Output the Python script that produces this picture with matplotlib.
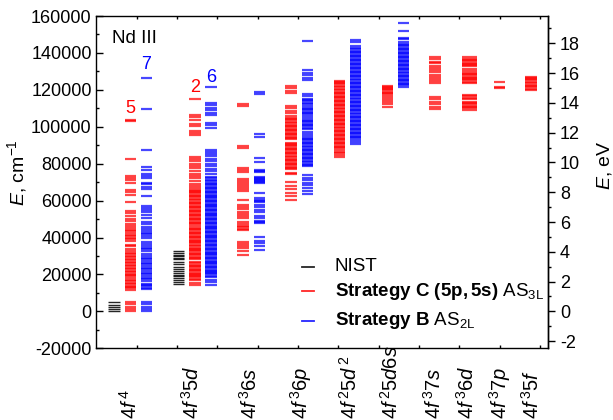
import matplotlib
matplotlib.use("Agg")
import matplotlib.pyplot as plt
import matplotlib.transforms as mtransforms
from matplotlib.ticker import MultipleLocator

plt.rcParams['font.family'] = ['Liberation Sans', 'DejaVu Sans']
plt.rcParams['mathtext.fontset'] = 'custom'
plt.rcParams['mathtext.rm'] = 'Liberation Sans'
plt.rcParams['mathtext.it'] = 'Liberation Sans:italic'
plt.rcParams['mathtext.bf'] = 'Liberation Sans:bold'
plt.rcParams['axes.unicode_minus'] = False

# ---------------- data (energies in cm^-1) ----------------
configs = ['4f4', '4f35d', '4f36s', '4f36p', '4f25d2', '4f25d6s', '4f37s', '4f36d', '4f37p', '4f35f']
config_labels = [r'$\mathit{4f}^{\,\mathit{4}}$', r'$\mathit{4f}^{\,\mathit{3}}\mathit{5d}$',
                 r'$\mathit{4f}^{\,\mathit{3}}\mathit{6s}$', r'$\mathit{4f}^{\,\mathit{3}}\mathit{6p}$',
                 r'$\mathit{4f}^{\,\mathit{2}}\mathit{5d}^{\,\mathit{2}}$', r'$\mathit{4f}^{\,\mathit{2}}\mathit{5d6s}$',
                 r'$\mathit{4f}^{\,\mathit{3}}\mathit{7s}$', r'$\mathit{4f}^{\,\mathit{3}}\mathit{6d}$',
                 r'$\mathit{4f}^{\,\mathit{3}}\mathit{7p}$', r'$\mathit{4f}^{\,\mathit{3}}\mathit{5f}$']

nist = {
    '4f4': [0, 1138, 2388, 3715, 5093],
    '4f35d': [14700, 16000, 17000, 18100, 19200, 19900, 20800, 21900, 23200, 24100,
              25700, 26800, 28200, 28900, 29800, 30700, 31600, 32700],
}

strat_c = {
    '4f4': [0, 1150, 2420, 3760, 5150,
            11800, 12500, 13300, 14000, 14900, 15600, 16500, 17200, 18100, 18900, 19600,
            20400, 21300, 22000, 22800, 23700, 24400, 25300, 26100, 26900, 27600, 28500,
            29300, 30100, 31000, 31800, 32600, 33600, 35300, 36100, 38100, 39000, 39800,
            40700, 41500, 42600, 43400, 44300, 45100, 46000, 47500, 48900, 50200, 51600,
            53100, 54500, 59100, 63100, 64700, 65800, 69800, 70900, 72200, 73400, 82700,
            103000, 103700],
    '4f35d': [14500, 15600, 16900, 17800, 18400, 19100, 19700, 20400, 21000, 21800, 22500,
              23100, 23900, 24600, 25200, 26000, 26700, 28300, 29000, 29600, 30400, 31100,
              31700, 32500, 33200, 33900, 34600, 35300, 36000, 36800, 37400, 38200, 38900,
              39600, 40300, 41000, 41800, 42500, 43200, 43900, 44700, 45400, 46000, 47200,
              47900, 48600, 49300, 50100, 50800, 51500, 52200, 52900, 53700, 54400, 55100,
              55800, 56600, 57300, 58000, 58800, 59500, 60200, 60900, 61700, 62400, 63100,
              63900, 64600, 65300, 66000, 66700, 67900, 69200, 70700, 72100, 73200, 74600,
              76100, 77400, 78800, 80100, 81400, 82700, 83700, 95600, 96800, 97900, 100500,
              101600, 103700, 105200, 106500, 115200],
    '4f36s': [30800, 32800, 34200, 35300, 36400, 37400, 44100, 44700, 45600, 46500, 47400,
              48300, 50400, 51500, 52800, 54000, 55300, 56400, 57600, 60300, 65100, 66100,
              67200, 68300, 69400, 70400, 71700, 75600, 76700, 77900, 88600, 89700, 111000,
              112200],
    '4f36p': [60400, 62500, 64300, 66100, 67900, 70100, 74200, 75100, 76900, 77600, 78400,
              79100, 79800, 80600, 81300, 82000, 82800, 83500, 84200, 85000, 85700, 86400,
              87200, 87900, 88600, 89400, 90100, 90800, 91400, 93200, 93900, 94600, 95400,
              96100, 96800, 97600, 98300, 99000, 99800, 100500, 101200, 102000, 102700,
              103400, 104200, 104900, 105800, 107600, 108500, 109900, 111200, 118400, 119300,
              121100, 122000],
    '4f25d2': [83800, 84700, 85600, 86500, 87400, 88300, 89000, 89700, 90500, 91200, 91900,
               92700, 93400, 94100, 94900, 95600, 96300, 97100, 97800, 98500, 99300, 100000,
               100700, 101500, 102200, 102900, 103700, 104400, 105100, 105900, 106600, 107300,
               108100, 108800, 109500, 110300, 111000, 111700, 112500, 113200, 113900, 114700,
               115400, 116100, 116900, 117600, 118300, 119100, 119800, 120500, 121300, 122100,
               123000, 123700, 124300, 124900],
    '4f25d6s': [110900, 112300, 113400, 114500, 115800, 116700, 117600, 118300, 119000, 119700,
                120400, 121100, 121700, 122200],
    '4f37s': [109500, 110900, 112400, 113600, 114900, 115900, 123900, 124800, 125700, 126800,
              128000, 129800, 130700, 132000, 133100, 134300, 135300, 136500, 137600],
    '4f36d': [109300, 110100, 110800, 111500, 112200, 112900, 113600, 115000, 115700, 116400,
              117100, 123900, 124400, 125100, 125800, 126500, 127200, 127900, 128600, 129300,
              130000, 131400, 132700, 133400, 134100, 134800, 135500, 136200, 136900, 137600],
    '4f37p': [120800, 121300, 124000],
    '4f35f': [120000, 120700, 121300, 122000, 122800, 123500, 124300, 125100, 125800, 126400,
              127000],
}

strat_b = {
    '4f4': [0, 1200, 2500, 3900, 5300, 11900, 12700, 13500, 14300, 15100, 16400, 17300, 18200,
            19100, 20000, 20900, 21800, 22700, 23600, 24500, 25400, 26400, 27300, 28200, 29100,
            30100, 31000, 32800, 33700, 34500, 35500, 36600, 37800, 40000, 40900, 41800, 42700,
            43600, 44700, 45800, 47600, 48500, 50700, 52200, 53600, 54700, 55800, 56900, 62700,
            66200, 67600, 68900, 69800, 72200, 73500, 74500, 76700, 78000, 87500, 109500, 126600],
    '4f35d': [14200, 16000, 17200, 18700, 19300, 20000, 20600, 21300, 22000, 22600, 23300, 24100,
              24800, 25400, 26200, 26900, 27500, 28300, 29000, 29700, 30300, 31100, 31800, 32400,
              33200, 33900, 34500, 35300, 36000, 36700, 37400, 38100, 38700, 39500, 40200, 40900,
              41600, 42300, 43000, 43700, 44400, 45000, 45800, 46500, 47200, 47900, 48600, 49300,
              50000, 50700, 51400, 52100, 52800, 53500, 54200, 54900, 55600, 56300, 57000, 57700,
              58400, 59100, 59800, 60500, 61200, 61900, 62600, 63300, 64000, 64700, 65400, 66100,
              66800, 67500, 68200, 69000, 69800, 70500, 71300, 72000, 72800, 74500, 75900, 77200,
              78600, 79900, 81200, 82600, 83900, 85000, 86200, 87500, 99500, 100800, 102100,
              106300, 107700, 109000, 110400, 111700, 113000, 121700],
    '4f36s': [33000, 35300, 36900, 38300, 40100, 47900, 48600, 49200, 50600, 51900, 54000, 55000,
              56400, 57600, 59100, 59800, 60300, 61400, 63900, 69300, 70000, 70400, 71000, 71700,
              72400, 73000, 75300, 76000, 76600, 80700, 82900, 94700, 96000, 117600, 119100],
    '4f36p': [63600, 65200, 66800, 68300, 69700, 71200, 72400, 73700, 78700, 79400, 80100, 80900,
              81600, 82300, 83100, 83800, 84500, 85300, 86000, 86700, 87500, 88200, 88900, 89700,
              90400, 91100, 91900, 92600, 93300, 94100, 94800, 95900, 97100, 98600, 99500, 100200,
              100900, 101700, 102400, 103100, 103900, 104600, 105800, 106700, 107400, 108100,
              108900, 109600, 110300, 111100, 112100, 113000, 113800, 114500, 115300, 116400,
              117500, 125200, 126500, 128300, 129200, 130600, 146300],
    '4f25d2': [90650, 91900, 92800, 93700, 94400, 95100, 95900, 96600, 97300, 98100, 98800, 99500,
               100300, 101000, 101700, 102500, 103200, 103900, 104700, 105400, 106100, 106900,
               107600, 108300, 109100, 109800, 110500, 111300, 112000, 112700, 113500, 114200,
               114900, 115700, 116400, 117100, 117900, 118600, 119300, 120100, 120800, 121500,
               122300, 123000, 123700, 124500, 125200, 125900, 126700, 127400, 128100, 128900,
               129600, 130300, 131100, 131800, 132500, 133300, 134000, 134700, 135500, 136200,
               136900, 137700, 138400, 139100, 139900, 140600, 141300, 142100, 142800, 143600,
               146000, 147000],
    '4f25d6s': [121700, 122400, 123100, 123900, 124600, 125300, 126100, 126800, 127500, 128300,
                129000, 129700, 130500, 131200, 131900, 132700, 133400, 134100, 134900, 135600,
                136300, 137100, 137800, 138500, 139300, 140000, 140700, 141500, 142200, 142900,
                143700, 144400, 145100, 145800, 147300, 148200, 151900, 156400],
}

# count annotations (text, configuration, series, energy)
count_notes = [('5', '4f4', 'C', 109900), ('7', '4f4', 'B', 133700),
               ('2', '4f35d', 'C', 121500), ('6', '4f35d', 'B', 126700)]

# ---------------- layout ----------------
group_center = {'4f4': 0.84, '4f35d': 2.44, '4f36s': 3.84, '4f36p': 5.03, '4f25d2': 6.23,
                '4f25d6s': 7.42, '4f37s': 8.40, '4f36d': 9.25, '4f37p': 10.0, '4f35f': 10.78}
label_x = [0.83, 2.36, 3.81, 5.07, 6.29, 7.31, 8.37, 9.19, 10.01, 10.80]

def col_x(cfg, series):
    c = group_center[cfg]
    if cfg in ('4f4', '4f35d'):
        return {'N': c - 0.4, 'C': c, 'B': c + 0.4}[series]
    if cfg in strat_b:
        return {'C': c - 0.2, 'B': c + 0.2}[series]
    return c

HW = 0.143
colors = {'N': 'black', 'C': '#ff0000', 'B': '#0000ff'}
alphas = {'N': 0.85, 'C': 0.72, 'B': 0.72}
widths = {'N': 1.0, 'C': 1.6, 'B': 1.6}

fig = plt.figure(figsize=(6.13, 4.20), dpi=100)
ax = fig.add_axes([0.1574, 0.1707, 0.7366, 0.7912])

def draw(series, table):
    for cfg, levels in table.items():
        x = col_x(cfg, series)
        hw = 0.186 if cfg == '4f36d' else HW
        ax.hlines(levels, x - hw, x + hw, colors=colors[series], lw=widths[series],
                  alpha=alphas[series])

draw('N', nist)
draw('C', strat_c)
draw('B', strat_b)

for txt, cfg, s, e in count_notes:
    ax.text(col_x(cfg, s), e, txt, color=colors[s], fontsize=13, ha='center', va='center')

ax.set_xlim(0, 11.2)
ax.set_ylim(-20000, 160000)
ax.set_xticks(range(1, 12))
ax.set_xticklabels([])
ax.yaxis.set_major_locator(MultipleLocator(20000))
ax.yaxis.set_minor_locator(MultipleLocator(10000))
ax.tick_params(axis='y', which='both', direction='in', right=False, labelsize=13)
ax.tick_params(axis='y', which='major', length=5, width=1)
ax.tick_params(axis='y', which='minor', length=2.5, width=1)
ax.tick_params(axis='x', which='both', direction='in', top=True, bottom=True, length=2.5, width=1)
for sp in ax.spines.values():
    sp.set_linewidth(1.0)

sec = ax.secondary_yaxis('right', functions=(lambda e: e / 8065.54, lambda v: v * 8065.54))
sec.yaxis.set_major_locator(MultipleLocator(2))
sec.yaxis.set_minor_locator(MultipleLocator(1))
sec.tick_params(which='both', direction='out', labelsize=13, width=1)
sec.tick_params(which='major', length=5)
sec.tick_params(which='minor', length=2.5)
sec.spines['right'].set_linewidth(1.0)

ax.text(-0.176, 0.53, r'$\mathit{E}$, cm$^{-1}$', transform=ax.transAxes, rotation=90,
        ha='center', va='center', fontsize=14)
ax.text(1.124, 0.55, r'$\mathit{E}$, eV', transform=ax.transAxes, rotation=90,
        ha='center', va='center', fontsize=14)

ax.text(0.034, 0.919, 'Nd III', transform=ax.transAxes, fontsize=13.5, ha='left', va='baseline')

# configuration labels
trans = mtransforms.blended_transform_factory(ax.transData, fig.transFigure)
for x, lab in zip(label_x, config_labels):
    ax.text(x, 0.002, lab, transform=trans, rotation=90, ha='center', va='bottom',
            fontsize=14.5, clip_on=False)

# legend (manual)
leg_items = [('N', 'NIST'),
             ('C', r'$\mathbf{Strategy\ C\ (5p,5s)}$ AS$_{\mathrm{3L}}$'),
             ('B', r'$\mathbf{Strategy\ B}$ AS$_{\mathrm{2L}}$')]
leg_y = [0.245, 0.172, 0.083]
for (s, lab), y in zip(leg_items, leg_y):
    ax.plot([0.455, 0.481], [y, y], transform=ax.transAxes, color=colors[s], lw=1.3, alpha=0.85)
    ax.text(0.528, y, lab, transform=ax.transAxes, fontsize=13.5, ha='left', va='center')

fig.savefig('out.png', dpi=100)
